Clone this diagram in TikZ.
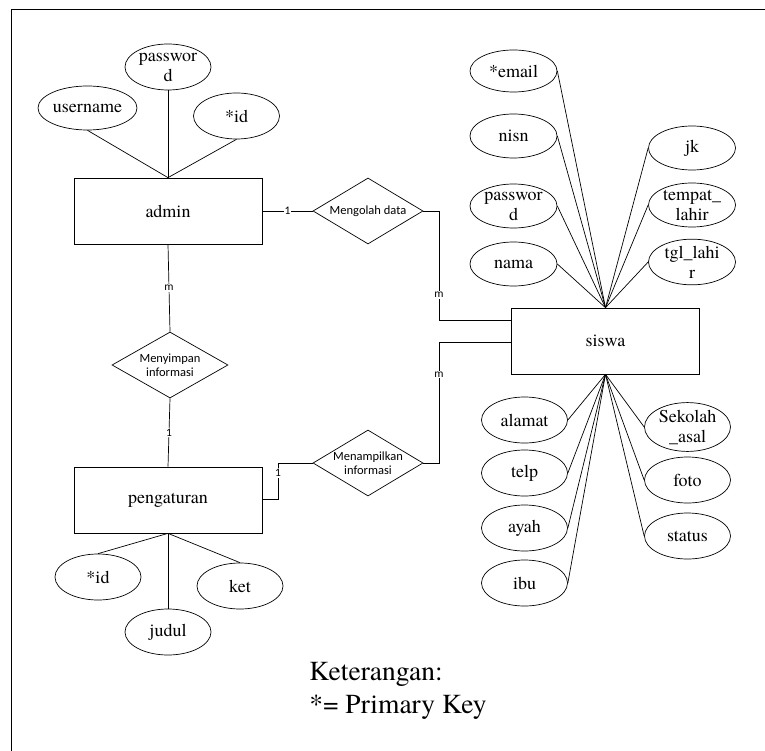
\documentclass[tikz,border=0pt]{standalone}
\usepackage{fontspec}
\setmainfont{TeX Gyre Termes}
\newfontfamily\timesfont{TeX Gyre Termes}
\newfontfamily\calibrifont{Carlito}
\usetikzlibrary{shapes.geometric}
\begin{document}
\begin{tikzpicture}[x=1pt,y=-1pt,line width=0.7pt,
  attr/.style={ellipse,draw,minimum width=86pt,minimum height=46pt,inner sep=0pt,font=\timesfont\fontsize{18}{20}\selectfont,align=center},
  ent/.style={rectangle,draw,minimum width=188pt,minimum height=66pt,inner sep=0pt,font=\timesfont\fontsize{18}{20}\selectfont},
  rel/.style={diamond,draw,minimum width=110pt,minimum height=66pt,inner sep=0pt},
  reltext/.style={font=\calibrifont\fontsize{12.5}{14}\selectfont,align=center},
  card/.style={fill=white,inner sep=1pt,font=\calibrifont\fontsize{11.5}{12}\selectfont},
  note/.style={anchor=base west,inner sep=0pt,font=\timesfont\fontsize{27.5}{33}\selectfont}]
\useasboundingbox (0,0) rectangle (765,751);
\draw[line width=1.2pt] (11.5,751) -- (11.5,9.5) -- (765,9.5);

% entities
\node[ent] (admin) at (168,211) {admin};
\node[ent] (peng) at (168,500) {pengaturan};
\node[ent] (siswa) at (605.5,341) {siswa};

% relationships
\node[rel,label={[reltext]center:Mengolah data}] (olah) at (368,211) {};
\node[rel,minimum width=116pt,label={[reltext]center:Menyimpan\\informasi}] (simpan) at (170,365) {};
\node[rel,label={[reltext]center:Menampilkan\\informasi}] (tampil) at (368,463) {};

% admin attributes
\node[attr] (apass) at (168,67) {passwor\\d};
\node[attr,minimum width=99pt,minimum height=44pt] (auser) at (87.5,108) {username};
\node[attr] (aid) at (236.5,116) {*id};
\draw (auser.south) -- (admin.north);
\draw (apass.south) -- (admin.north);
\draw (aid.south) -- (admin.north);

% pengaturan attributes
\node[attr] (pid) at (98,577) {*id};
\node[attr] (pket) at (240,586) {ket};
\node[attr] (pjudul) at (168,632) {judul};
\draw (pid.north) -- (peng.south);
\draw (pket.north) -- (peng.south);
\draw (pjudul.north) -- (peng.south);

% siswa attributes (top)
\node[attr,minimum width=87pt,minimum height=42pt] (semail) at (513.5,71) {*email};
\node[attr,minimum width=87pt,minimum height=44pt] (snisn) at (513.5,136) {nisn};
\node[attr,minimum width=87pt,minimum height=44pt] (spass) at (513.5,206) {passwor\\d};
\node[attr,minimum width=87pt,minimum height=44pt] (snama) at (513.5,264) {nama};
\node[attr,minimum width=87pt,minimum height=44pt] (sjk) at (692,148) {jk};
\node[attr,minimum width=87pt,minimum height=44pt] (stempat) at (692,205) {tempat\_\\lahir};
\node[attr,minimum width=87pt,minimum height=44pt] (stgl) at (692,262) {tgl\_lahi\\r};
\foreach \n in {semail,snisn,spass,snama}{\draw (\n.east) -- (siswa.north);}
\foreach \n in {sjk,stempat,stgl}{\draw (\n.west) -- (siswa.north);}

% siswa attributes (bottom)
\node[attr] (salamat) at (524.5,420) {alamat};
\node[attr] (stelp) at (524.5,473) {telp};
\node[attr] (sayah) at (524.5,528) {ayah};
\node[attr] (sibu) at (524.5,583) {ibu};
\node[attr] (ssekolah) at (687.5,427) {Sekolah\\\_asal};
\node[attr] (sfoto) at (687.5,480) {foto};
\node[attr] (sstatus) at (687.5,536) {status};
\foreach \n in {salamat,stelp,sayah,sibu}{\draw (\n.east) -- (siswa.south);}
\foreach \n in {ssekolah,sfoto,sstatus}{\draw (\n.west) -- (siswa.south);}

% relationship connectors
\coordinate (s1) at (siswa.west |- 0,320);
\coordinate (s2) at (siswa.west |- 0,342);
\coordinate (p1) at (peng.east |- 0,499);
\draw (admin.east) -- node[card]{1} (olah.west);
\draw (olah.east) -- (439,211) -- node[card,pos=0.77]{m} (439,320) -- (s1);
\draw (admin.south) -- node[card]{m} (simpan.north);
\draw (simpan.south) -- node[card]{1} (peng.north);
\draw (tampil.east) -- (439,463) -- node[card,pos=0.73]{m} (439,342) -- (s2);
\draw (tampil.west) -- (278,463) -- node[card,pos=0.28]{1} (278,499) -- (p1);

% legend
\node[note] (ket1) at (309,680) {Keterangan:};
\node[note] (ket2) at (309,713) {*= Primary Key};
\end{tikzpicture}
\end{document}
